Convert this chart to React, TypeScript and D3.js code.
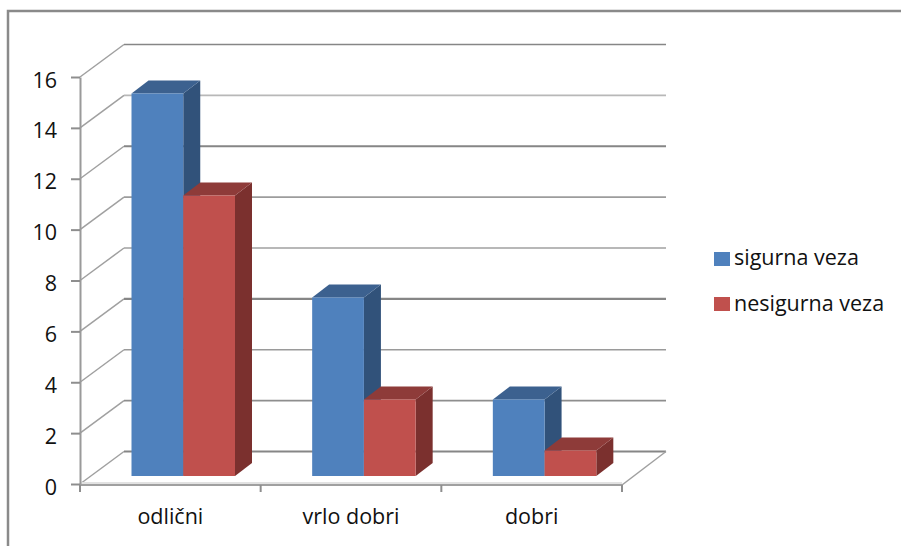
import React, { useEffect, useRef } from 'react';
import * as d3 from 'd3';

const categories = ['odlični', 'vrlo dobri', 'dobri'];
const seriesNames = ['sigurna veza', 'nesigurna veza'];
const sigurnaVeza = [15, 7, 3];
const nesigurnaVeza = [11, 3, 1];
const yTicks = [0, 2, 4, 6, 8, 10, 12, 14, 16];

// front, top and side colour for each series
const shades = [
  { front: '#4f81bd', top: '#3c618f', side: '#31527a' },
  { front: '#c0504d', top: '#8e3b39', side: '#7b302e' },
];
// the gridlines came out uneven in the source image, some thin and pale
const gridColor = ['#868686', '#8e8e8e', '#9a9a9a', '#868686', '#a0a0a0', '#9c9c9c', '#868686', '#b8b8b8', '#868686'];

const FONT = '"Open Sans", sans-serif';
const FONT_SIZE = 21.5;

export default function App() {
  const ref = useRef<SVGSVGElement>(null);

  useEffect(() => {
    const svg = d3.select(ref.current);
    svg.selectAll('*').remove();

    const depthX = 44, depthY = 32.5;
    const barDepthX = 17, barDepthY = 13;
    const x = d3.scaleBand().domain(categories).range([80, 622]);
    const y = d3.scaleLinear().domain([0, 16]).range([484, 77]);
    const yBar = d3.scaleLinear().domain([0, 16]).range([476, 68]);
    const inner = d3.scaleBand().domain(seriesNames).range([51.5, 155]);

    // chart frame, only top and left show
    svg.append('path')
      .attr('d', 'M8,546V11H901')
      .attr('fill', 'none')
      .attr('stroke', '#8a8a8a')
      .attr('stroke-width', 2.5);

    // walls
    const grid = svg.append('g').attr('fill', 'none');
    yTicks.forEach((t, i) => {
      const back = y(t) - depthY;
      grid.append('line')
        .attr('x1', 80).attr('y1', y(t))
        .attr('x2', 80 + depthX).attr('y2', back)
        .attr('stroke', '#a0a0a0')
        .attr('stroke-width', 1.5);
      grid.append('line')
        .attr('x1', 80 + depthX).attr('y1', back)
        .attr('x2', 622 + depthX).attr('y2', back)
        .attr('stroke', gridColor[i])
        .attr('stroke-width', i % 3 === 0 ? 2.2 : 1.7);
    });
    // floor edge
    const floor = d3.path();
    floor.moveTo(622, y(0) + 1);
    floor.lineTo(622 + depthX, y(0) - depthY);
    grid.append('path').attr('d', floor.toString()).attr('stroke', '#a0a0a0').attr('stroke-width', 1.5);
    grid.append('line')
      .attr('x1', 80).attr('x2', 622).attr('y1', y(0) - 1).attr('y2', y(0) - 1)
      .attr('stroke', '#e2e2e2').attr('stroke-width', 2);
    grid.append('line')
      .attr('x1', 80).attr('x2', 622).attr('y1', y(0) + 1).attr('y2', y(0) + 1)
      .attr('stroke', '#a0a0a0').attr('stroke-width', 2);

    // y axis
    const yAxis = svg.append('g')
      .attr('transform', 'translate(80,0)')
      .call(d3.axisLeft(y).tickValues(yTicks).tickSize(9).tickPadding(14).tickSizeOuter(0));
    yAxis.select('.domain').attr('stroke', '#9a9a9a').attr('stroke-width', 2);
    yAxis.selectAll('line').attr('stroke', '#8e8e8e').attr('stroke-width', 2);
    yAxis.selectAll('text')
      .attr('dy', '0.47em')
      .attr('font-family', FONT)
      .attr('font-size', FONT_SIZE)
      .attr('fill', '#111');

    // category ticks
    const catTicks = [...categories.map(c => x(c)!), 622];
    svg.append('g').selectAll('line').data(catTicks).enter().append('line')
      .attr('x1', d => d).attr('x2', d => d)
      .attr('y1', y(0) + 1).attr('y2', y(0) + 8)
      .attr('stroke', '#8e8e8e').attr('stroke-width', 2);
    svg.append('g').selectAll('text').data(categories).enter().append('text')
      .attr('x', d => x(d)! + x.bandwidth() / 2)
      .attr('y', 524)
      .attr('text-anchor', 'middle')
      .attr('font-family', FONT)
      .attr('font-size', FONT_SIZE)
      .attr('fill', '#111')
      .text(d => d);

    // bars
    const bars = svg.append('g');
    [sigurnaVeza, nesigurnaVeza].forEach((values, s) => {
      const shade = shades[s];
      values.forEach((v, c) => {
        const left = x(categories[c])! + inner(seriesNames[s])!;
        const right = left + inner.bandwidth();
        const top = yBar(v), base = yBar(0);
        const poly = (pts: [number, number][], fill: string) =>
          bars.append('polygon').attr('points', pts.map(p => p.join(',')).join(' ')).attr('fill', fill);
        poly([[right, top], [right + barDepthX, top - barDepthY], [right + barDepthX, base - barDepthY], [right, base]], shade.side);
        poly([[left, top], [left + barDepthX, top - barDepthY], [right + barDepthX, top - barDepthY], [right, top]], shade.top);
        poly([[left, top], [right, top], [right, base], [left, base]], shade.front);
      });
    });

    // legend
    const legend = svg.append('g').selectAll('g').data(seriesNames).enter().append('g')
      .attr('transform', (_, i) => `translate(714,${252 + i * 45})`);
    legend.append('rect')
      .attr('width', 16).attr('height', 14)
      .attr('fill', (_, i) => shades[i].front);
    legend.append('text')
      .attr('x', 20).attr('y', (_, i) => 13 + i)
      .attr('font-family', FONT)
      .attr('font-size', FONT_SIZE)
      .attr('fill', '#111')
      .text(d => d);
  }, []);

  return <svg ref={ref} width={901} height={546} style={{ position: 'absolute', left: 0, top: 0, background: '#fff' }} />;
}
